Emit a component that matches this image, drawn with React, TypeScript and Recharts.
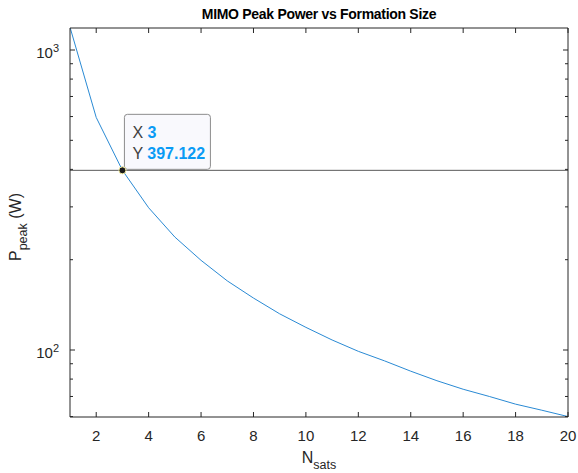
import React from "react";
import {
  LineChart,
  Line,
  XAxis,
  YAxis,
  ReferenceLine,
  ReferenceDot,
  Label,
} from "recharts";

// Formation size (number of satellites)
const nSats = [1, 2, 3, 4, 5, 6, 7, 8, 9, 10, 11, 12, 13, 14, 15, 16, 17, 18, 19, 20];
// Peak power (W)
const pPeak = [1191, 596, 397.1, 298, 238, 199, 170, 149, 132, 119, 108, 99, 92, 85, 79, 74, 70, 66, 63, 60];

const xTicks = [2, 4, 6, 8, 10, 12, 14, 16, 18, 20];
const yTicks = [60, 70, 80, 90, 100, 200, 300, 400, 500, 600, 700, 800, 900, 1000];
const yMajor: Record<number, string> = { 100: "2", 1000: "3" };

const tipX = 3;
const tipY = 397.122;

const data = nSats.map((n, i) => ({ n, p: pPeak[i] }));

const FONT = "'Liberation Sans', Arial, Helvetica, sans-serif";
const AXIS = "#262626";
const TICK_TXT = "#262626";

const BottomTick = (props: any) => {
  const { x, y, payload } = props;
  return (
    <g>
      <line x1={x} x2={x} y1={y} y2={y - 5} stroke={AXIS} />
      <text x={x} y={y + 24} textAnchor="middle" fontSize={15} fill={TICK_TXT} fontFamily={FONT}>
        {payload.value}
      </text>
    </g>
  );
};

const TopTick = (props: any) => {
  const { x, y } = props;
  return <line x1={x} x2={x} y1={y} y2={y + 5} stroke={AXIS} />;
};

const LeftTick = (props: any) => {
  const { x, y, payload } = props;
  const exp = yMajor[payload.value];
  return (
    <g>
      <line x1={x} x2={x + (exp ? 5 : 3)} y1={y} y2={y} stroke={AXIS} />
      {exp && (
        <text x={x - 11} y={y + 8} textAnchor="end" fontSize={15} fill={TICK_TXT} fontFamily={FONT}>
          10
          <tspan dy={-6} fontSize={11}>
            {exp}
          </tspan>
        </text>
      )}
    </g>
  );
};

const RightTick = (props: any) => {
  const { x, y, payload } = props;
  const major = yMajor[payload.value];
  return <line x1={x} x2={x - (major ? 5 : 3)} y1={y} y2={y} stroke={AXIS} />;
};

const DataTip = (props: any) => {
  const { cx, cy } = props;
  const bx = cx + 2;
  const by = cy - 56;
  return (
    <g>
      <rect x={bx} y={by} width={86} height={55} rx={3} fill="#f9f9fd" stroke="#8c8c8c" />
      <text x={bx + 8} y={by + 24} fontSize={16} fontFamily={FONT} fill="#404040">
        X <tspan fill="#0a9bf5" fontWeight="bold">{tipX}</tspan>
      </text>
      <text x={bx + 8} y={by + 45} fontSize={16} fontFamily={FONT} fill="#404040">
        Y <tspan fill="#0a9bf5" fontWeight="bold">{tipY.toFixed(3)}</tspan>
      </text>
      <circle cx={cx} cy={cy} r={3.5} fill="#1a1a1a" stroke="#f2eca0" strokeWidth={1} />
    </g>
  );
};

const XLabel = (props: any) => {
  const { viewBox } = props;
  const cx = viewBox.x + viewBox.width / 2;
  return (
    <text x={cx} y={viewBox.y + 46} textAnchor="middle" fontSize={16} fill={TICK_TXT} fontFamily={FONT}>
      N
      <tspan dy={6} fontSize={12.5}>
        sats
      </tspan>
    </text>
  );
};

const YLabel = (props: any) => {
  const x = 21;
  const y = 261;
  return (
    <text
      x={x}
      y={y}
      textAnchor="start"
      fontSize={16}
      fill={TICK_TXT}
      fontFamily={FONT}
      transform={`rotate(-90, ${x}, ${y})`}
    >
      P
      <tspan dy={6} fontSize={12.5}>
        peak
      </tspan>
      <tspan dy={-6}> (W)</tspan>
    </text>
  );
};

export default function App() {
  return (
    <div style={{ position: "absolute", left: 0, top: 0, width: 578, height: 473, background: "#fff" }}>
      <div
        style={{
          position: "absolute",
          left: 70,
          width: 498,
          top: 6,
          textAlign: "center",
          fontFamily: FONT,
          fontWeight: "bold",
          fontSize: 14,
          letterSpacing: -0.3,
          color: "#000",
        }}
      >
        MIMO Peak Power vs Formation Size
      </div>
      <LineChart width={578} height={473} data={data} margin={{ top: 0, right: 0, bottom: 0, left: 0 }}>
        <XAxis
          xAxisId="bottom"
          dataKey="n"
          type="number"
          domain={[1, 20]}
          ticks={xTicks}
          height={56}
          tickSize={0}
          tickMargin={0}
          tickLine={false}
          tick={<BottomTick />}
          stroke={AXIS}
          allowDataOverflow
        >
          <Label content={<XLabel />} />
        </XAxis>
        <XAxis
          xAxisId="top"
          dataKey="n"
          type="number"
          orientation="top"
          domain={[1, 20]}
          ticks={xTicks}
          height={28}
          tickSize={0}
          tickMargin={0}
          tickLine={false}
          tick={<TopTick />}
          stroke={AXIS}
          allowDataOverflow
        />
        <YAxis
          yAxisId="left"
          scale="log"
          type="number"
          domain={[59.8, 1184]}
          ticks={yTicks}
          width={70}
          tickSize={0}
          tickMargin={0}
          tickLine={false}
          tick={<LeftTick />}
          stroke={AXIS}
          interval={0}
          allowDataOverflow
        >
          <Label content={<YLabel />} />
        </YAxis>
        <YAxis
          yAxisId="right"
          orientation="right"
          scale="log"
          type="number"
          domain={[59.8, 1184]}
          ticks={yTicks}
          width={10}
          tickSize={0}
          tickMargin={0}
          tickLine={false}
          tick={<RightTick />}
          stroke={AXIS}
          interval={0}
          allowDataOverflow
        />
        <ReferenceLine xAxisId="bottom" yAxisId="left" y={tipY} stroke="#5a5a5a" strokeWidth={1} />
        <Line
          xAxisId="bottom"
          yAxisId="left"
          dataKey="p"
          type="linear"
          stroke="#2a8ad4"
          strokeWidth={1}
          dot={false}
          isAnimationActive={false}
        />
        <ReferenceDot xAxisId="bottom" yAxisId="left" x={tipX} y={tipY} r={3.5} shape={<DataTip />} />
      </LineChart>
    </div>
  );
}
